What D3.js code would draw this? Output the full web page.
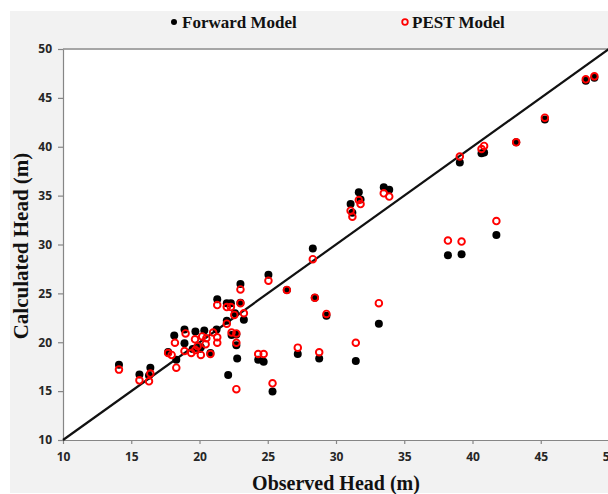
<!DOCTYPE html>
<html><head><meta charset="utf-8">
<script src="https://cdn.jsdelivr.net/npm/d3@7"></script>
<style>html,body{margin:0;padding:0;background:#fff;}svg{display:block;}</style>
</head><body>
<svg id="chart" width="608" height="494"></svg>
<script>
const xTicks = [10,15,20,25,30,35,40,45,50];
const yTicks = [10,15,20,25,30,35,40,45,50];
const seriesNames = ["Forward Model", "PEST Model"];

const forwardObserved = [14.1,15.6,16.4,16.3,17.7,18.15,18.9,18.3,18.9,19.5,19.7,20.0,20.35,20.8,21.25,21.3,22.0,22.3,23.0,23.0,22.35,22.1,22.76,22.6,23.25,22.0,22.7,24.3,24.7,25.05,25.35,26.4,27.2,28.3,28.45,28.77,29.3,31.07,31.2,31.45,31.67,31.8,33.14,33.5,33.9,38.2,39.2,39.07,40.66,40.85,41.75,43.2,45.3,48.3,48.93,20.1,22.7];
const forwardCalculated = [17.7,16.7,17.4,16.6,19.0,20.7,21.3,18.2,19.9,19.3,21.1,19.3,21.2,18.9,21.3,24.4,24.0,24.0,25.96,24.05,20.75,16.65,18.35,22.96,22.3,22.2,19.7,18.2,18.0,26.9,14.95,25.35,18.8,29.6,24.56,18.35,22.7,34.14,33.25,18.08,35.34,34.6,21.9,35.85,35.6,28.9,29.0,38.4,39.33,39.4,30.97,40.45,42.8,46.76,47.07,19.5,20.8];

const pestObserved = [14.1,15.6,16.4,16.3,17.7,17.96,18.2,18.3,18.98,18.9,19.4,19.67,19.7,19.86,20.1,20.2,20.5,20.45,20.8,21.0,21.3,21.3,21.3,22.0,22.3,22.0,22.35,22.7,22.7,22.7,23.0,23.0,23.25,22.55,24.3,24.7,25.05,25.35,26.4,27.2,28.3,28.45,28.77,29.3,31.07,31.2,31.45,31.67,31.8,33.14,33.5,33.9,38.2,39.2,39.07,40.66,40.85,41.75,43.2,45.3,48.3,48.93];
const pestCalculated = [17.2,16.1,16.8,16.0,18.9,18.7,19.95,17.4,20.9,19.1,18.9,20.3,19.2,19.6,18.7,20.6,20.4,19.8,18.8,21.0,23.8,20.5,19.95,23.6,23.6,21.9,21.0,20.9,19.95,15.2,25.4,24.0,22.96,22.8,18.8,18.8,26.3,15.8,25.35,19.45,28.5,24.56,18.97,22.9,33.46,32.85,19.95,34.55,34.14,24.0,35.24,34.9,30.4,30.3,39.0,39.77,40.08,32.4,40.45,42.97,46.9,47.2];

const svg = d3.select("#chart");
const pLeft = 63, pRight = 609, pTop = 49, pBottom = 440;
const x = d3.scaleLinear().domain([10,50]).range([pLeft,pRight]);
const y = d3.scaleLinear().domain([10,50]).range([pBottom,pTop]);

// backgrounds
svg.append("rect").attr("x",10).attr("y",11).attr("width",598).attr("height",482).attr("fill","#f2f2f2");
svg.append("rect").attr("x",pLeft).attr("y",pTop).attr("width",pRight-pLeft).attr("height",pBottom-pTop).attr("fill","#fff");
svg.append("line").attr("x1",pLeft).attr("x2",pRight).attr("y1",pTop).attr("y2",pTop).attr("stroke","#a6a6a6").attr("stroke-width",2);

// axes
const xAxis = svg.append("g").attr("transform",`translate(0,${pBottom})`)
  .call(d3.axisBottom(x).tickValues(xTicks).tickSize(4).tickPadding(8).tickSizeOuter(0));
const yAxis = svg.append("g").attr("transform",`translate(${pLeft},0)`)
  .call(d3.axisLeft(y).tickValues(yTicks).tickSize(5).tickPadding(6).tickSizeOuter(0));
[xAxis,yAxis].forEach(g=>{
  g.select(".domain").attr("stroke","#868686").attr("stroke-width",1.2);
  g.selectAll(".tick line").attr("stroke","#868686").attr("stroke-width",1.2);
  g.selectAll(".tick text").attr("fill","#262626").attr("font-family","'Open Sans', sans-serif")
   .attr("font-weight",700).attr("font-size",12);
});

// 1:1 line
const plot = svg.append("g");
plot.append("line").attr("x1",x(10)).attr("y1",y(10)).attr("x2",x(50)).attr("y2",y(50))
  .attr("stroke","#111").attr("stroke-width",2.2);

// forward points
plot.selectAll("circle.fwd").data(forwardObserved.map((o,i)=>[o,forwardCalculated[i]]))
  .join("circle").attr("class","fwd").attr("cx",d=>x(d[0])).attr("cy",d=>y(d[1])).attr("r",4).attr("fill","#000");
// pest points
plot.selectAll("circle.pest").data(pestObserved.map((o,i)=>[o,pestCalculated[i]]))
  .join("circle").attr("class","pest").attr("cx",d=>x(d[0])).attr("cy",d=>y(d[1])).attr("r",3.3)
  .attr("fill","none").attr("stroke","#ff0000").attr("stroke-width",1.9);

// legend
const leg = svg.append("g");
leg.append("circle").attr("cx",174).attr("cy",22).attr("r",3).attr("fill","#000");
leg.append("text").attr("x",182).attr("y",28).text(seriesNames[0]);
leg.append("circle").attr("cx",405).attr("cy",22).attr("r",2.8).attr("fill","none").attr("stroke","#ff0000").attr("stroke-width",1.8);
leg.append("text").attr("x",412).attr("y",28).text(seriesNames[1]);
leg.selectAll("text").attr("font-family","'Liberation Serif', 'Times New Roman', serif").attr("font-weight",700).attr("font-size",17).attr("fill","#111");

// titles
svg.append("text").attr("x",336).attr("y",490).attr("text-anchor","middle")
  .attr("font-family","'Liberation Serif', 'Times New Roman', serif").attr("font-weight",700).attr("font-size",20).attr("fill","#111")
  .text("Observed Head (m)");
svg.append("text").attr("transform","translate(28,246) rotate(-90)").attr("text-anchor","middle")
  .attr("font-family","'Liberation Serif', 'Times New Roman', serif").attr("font-weight",700).attr("font-size",21).attr("fill","#111")
  .text("Calculated Head (m)");
</script>
</body></html>
